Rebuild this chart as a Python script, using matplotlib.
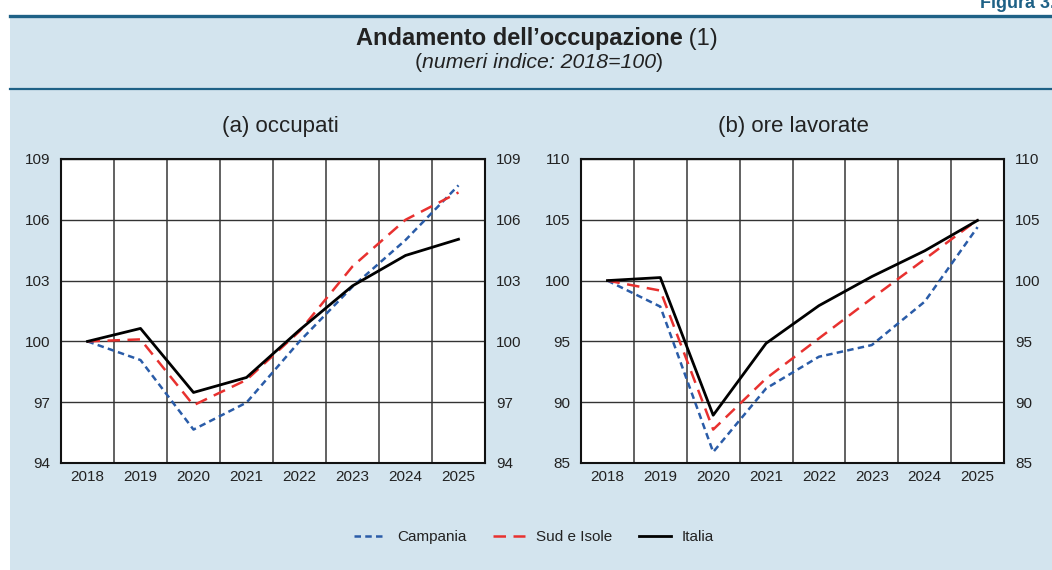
import numpy as np
import matplotlib.pyplot as plt
from matplotlib.lines import Line2D
from matplotlib.patches import Rectangle

plt.rcParams['font.family'] = ['Liberation Sans', 'DejaVu Sans']

years = ['2018', '2019', '2020', '2021', '2022', '2023', '2024', '2025']

# (a) occupati
occ_campania = [100, 99.08, 95.65, 96.98, 100.0, 102.7, 105.0, 107.7]
occ_sud = [100, 100.1, 96.85, 98.1, 100.5, 103.7, 106.0, 107.35]
occ_italia = [100, 100.64, 97.48, 98.22, 100.56, 102.74, 104.24, 105.04]

# (b) ore lavorate
ore_campania = [100, 97.86, 85.9, 91.13, 93.74, 94.7, 98.27, 104.4]
ore_sud = [100, 99.18, 87.75, 91.95, 95.25, 98.54, 101.76, 105.0]
ore_italia = [100, 100.25, 88.93, 94.84, 97.94, 100.33, 102.45, 104.95]

bg = '#d3e4ee'
dark = '#1e6186'
c_blue = '#2a5ca8'
c_red = '#e8312f'
txt = '#222222'
blue_dash = (2.6, 1.7)
red_dash = (5.0, 3.0)

W, H = 1052, 570
fig = plt.figure(figsize=(W / 100, H / 100), dpi=100)
fig.patch.set_facecolor('white')

# background panel and rules
fig.patches.append(Rectangle((10 / W, 0), 1 - 10 / W, 1 - 16 / H,
                             transform=fig.transFigure, facecolor=bg, edgecolor='none', zorder=-5))
fig.add_artist(Line2D([10 / W, 1], [1 - 15.5 / H] * 2, color=dark, lw=2.4))
fig.add_artist(Line2D([10 / W, 1], [1 - 88.5 / H] * 2, color=dark, lw=1.6))

fig.text(1.003, 1 - 4 / H, 'Figura 3.', ha='right', va='center', fontsize=13,
         fontweight='bold', color=dark)

# title: bold part + regular "(1)", centred together
renderer = fig.canvas.get_renderer()
inv = fig.transFigure.inverted()
tb = fig.text(0, 1 - 45 / H, 'Andamento dell\u2019occupazione', ha='left', va='baseline',
              fontsize=17, fontweight='bold', color=txt)
tr = fig.text(0, 1 - 45 / H, ' (1)', ha='left', va='baseline', fontsize=17, color=txt)
wb = inv.transform(tb.get_window_extent(renderer))[:, 0]
wr = inv.transform(tr.get_window_extent(renderer))[:, 0]
x0 = 537 / W - ((wb[1] - wb[0]) + (wr[1] - wr[0])) / 2
tb.set_x(x0)
tr.set_x(x0 + wb[1] - wb[0])

# subtitle: italic with upright brackets
ti = fig.text(539 / W, 1 - 68 / H, 'numeri indice: 2018=100', ha='center', va='baseline',
              fontsize=15.3, style='italic', color=txt)
bi = inv.transform(ti.get_window_extent(renderer))[:, 0]
fig.text(bi[0], 1 - 68 / H, '(', ha='right', va='baseline', fontsize=15.3, color=txt)
fig.text(bi[1], 1 - 68 / H, ')', ha='left', va='baseline', fontsize=15.3, color=txt)


def panel(rect, title, title_x, camp, sud, ita, ylim, yticks):
    ax = fig.add_axes(rect)
    ax.set_facecolor('white')
    x = np.arange(len(years))
    ax.plot(x, camp, color=c_blue, lw=1.8, dashes=blue_dash, zorder=3)
    ax.plot(x, sud, color=c_red, lw=1.8, dashes=red_dash, zorder=4)
    ax.plot(x, ita, color='black', lw=2.0, zorder=5)
    ax.set_xlim(-0.5, len(years) - 0.5)
    ax.set_ylim(*ylim)
    ax.set_xticks(x)
    ax.set_xticklabels(years)
    ax.set_xticks(np.arange(0.5, len(years) - 1, 1), minor=True)
    ax.set_yticks(yticks)
    ax.grid(True, which='minor', axis='x', color='#555555', lw=1.3)
    ax.grid(True, which='major', axis='y', color='#333333', lw=1.0)
    ax.tick_params(which='both', length=0, labelsize=11, colors=txt)
    ax.tick_params(axis='x', pad=5)
    ax.tick_params(axis='y', pad=8, labelright=True)
    for s in ax.spines.values():
        s.set_linewidth(1.5)
        s.set_color('#111111')
    ax.set_axisbelow(True)
    fig.text(title_x / W, 1 - 132 / H, title, ha='center', va='baseline',
             fontsize=16, color=txt)
    return ax


panel([61 / W, 1 - 463 / H, 424 / W, 304 / H], '(a) occupati', 280,
      occ_campania, occ_sud, occ_italia, (94, 109), [94, 97, 100, 103, 106, 109])
panel([581 / W, 1 - 463 / H, 423 / W, 304 / H], '(b) ore lavorate', 793,
      ore_campania, ore_sud, ore_italia, (85, 110), [85, 90, 95, 100, 105, 110])

handles = [Line2D([], [], color=c_blue, lw=1.8, dashes=blue_dash),
           Line2D([], [], color=c_red, lw=1.8, dashes=red_dash),
           Line2D([], [], color='black', lw=2.0)]
fig.legend(handles, ['Campania', 'Sud e Isole', 'Italia'], loc='center',
           bbox_to_anchor=(534 / W, 1 - 537 / H), ncol=3, frameon=False, fontsize=11,
           handlelength=2.1, columnspacing=1.75, handletextpad=0.7,
           labelcolor=txt)

fig.savefig('out.png', dpi=100, facecolor=fig.get_facecolor())
